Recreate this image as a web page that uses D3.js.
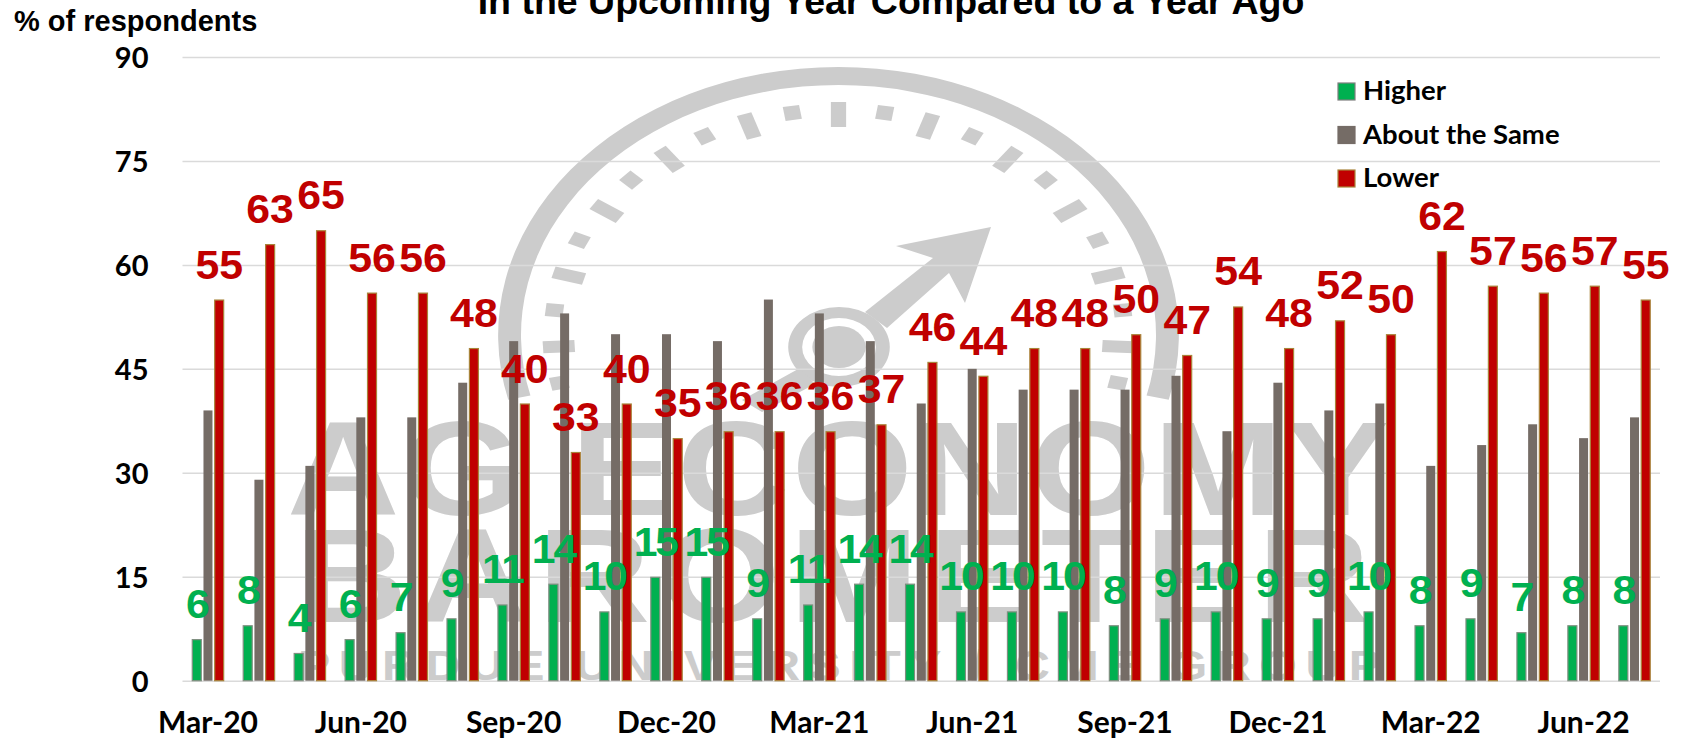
<!DOCTYPE html>
<html><head><meta charset="utf-8">
<style>html,body{margin:0;padding:0;background:#fff;overflow:hidden}svg{display:block}</style>
<script src="https://cdn.jsdelivr.net/npm/d3@7/dist/d3.min.js"></script>
</head><body><svg id="c" width="1681" height="741"></svg>
<script>
const months=["Mar-20","Apr-20","May-20","Jun-20","Jul-20","Aug-20","Sep-20","Oct-20","Nov-20","Dec-20","Jan-21","Feb-21","Mar-21","Apr-21","May-21","Jun-21","Jul-21","Aug-21","Sep-21","Oct-21","Nov-21","Dec-21","Jan-22","Feb-22","Mar-22","Apr-22","May-22","Jun-22","Jul-22"];
const higher=[6,8,4,6,7,9,11,14,10,15,15,9,11,14,14,10,10,10,8,9,10,9,9,10,8,9,7,8,8];
const same=[39,29,31,38,38,43,49,53,50,50,49,55,53,49,40,45,42,42,42,44,36,43,39,40,31,34,37,35,38];
const lower=[55,63,65,56,56,48,40,33,40,35,36,36,36,37,46,44,48,48,50,47,54,48,52,50,62,57,56,57,55];
const yTicks=[0,15,30,45,60,75,90];
const xTickLabels=["Mar-20","Jun-20","Sep-20","Dec-20","Mar-21","Jun-21","Sep-21","Dec-21","Mar-22","Jun-22"];
const seriesNames=["Higher","About the Same","Lower"];
const titleText="In the Upcoming Year Compared to a Year Ago";
const yTitle="% of respondents";

const svg=d3.select("#c");
const WM="#cccccc",GREEN="#00b050",GREY="#756c66",RED="#c00000",GOLD="#a8843a";
const ARIAL="'Liberation Sans',Arial,sans-serif",CAL="Lato,sans-serif";
const x=d3.scaleBand().domain(months).range([182.5,1660]);
const y=d3.scaleLinear().domain([0,90]).range([680.7,57]);
const off=d3.scalePoint().domain(seriesNames).range([-11.2,11.2]);
const cx=(m,s)=>x(m)+x.bandwidth()/2+off(s);

/* watermark */
const wm=svg.append("g").attr("fill",WM);
const g=wm.append("g").attr("transform","translate(838.5,335) scale(1.27,1)");
const rad=d=>d*Math.PI/180;
g.append("path").attr("d",d3.arc()({innerRadius:250,outerRadius:268,startAngle:rad(-104),endAngle:rad(104)}));
g.selectAll("rect.t").data(d3.range(-11,12)).join("rect")
 .attr("x",d=>d%2===0?-6:-6.5).attr("width",d=>d%2===0?12:13)
 .attr("y",d=>d%2===0?-233:-232).attr("height",d=>d%2===0?25:14)
 .attr("transform",d=>`rotate(${d*9.3})`);
const hub=wm.append("g").attr("transform","translate(839,347) scale(1.27,1)");
hub.append("path").attr("d",d3.arc()({innerRadius:29,outerRadius:40,startAngle:0,endAngle:2*Math.PI}));
hub.append("circle").attr("r",21);
wm.append("path").attr("d",d3.line()([[865,312],[933,258],[896,246],[991,227],[965,303],[949,273],[887,328]]));
wm.append("path").attr("d",d3.line()([[800,368],[815,384],[762,412],[742,400]]));
const wmScale=1.17;
const wmText=[["AG ECONOMY",287,515,1102/wmScale,133],["BAROMETER",295,622,1075/wmScale,133]];
wm.selectAll("text.w").data(wmText).join("text").attr("font-family",ARIAL).attr("font-weight",700)
 .attr("transform",d=>`translate(${d[1]},${d[2]}) scale(${wmScale},1)`).attr("textLength",d=>d[3]).attr("lengthAdjust","spacing")
 .attr("font-size",d=>d[4]).text(d=>d[0]);
wm.append("text").attr("font-family",ARIAL).attr("font-weight",700).attr("transform","translate(298,680) scale(1.15,1)")
 .attr("font-size",42).attr("textLength",1083/1.15).attr("lengthAdjust","spacing").text("PURDUE UNIVERSITY / CME GROUP");

/* axes */
const yAxis=d3.axisLeft(y).tickValues(yTicks).tickSize(-(1660-182.5)).tickPadding(34);
const ga=svg.append("g").attr("transform","translate(182.5,0)").call(yAxis);
ga.select(".domain").remove();
ga.selectAll("line").attr("stroke","#dadada").attr("stroke-width",1.5);
ga.selectAll("text").attr("font-family",CAL).attr("font-weight",700).attr("font-size",29).attr("fill","#000").attr("dy","0.36em");
const xAxis=d3.axisBottom(x).tickValues(xTickLabels).tickSize(0).tickPadding(0);
const gx=svg.append("g").attr("transform","translate(0,680.7)").call(xAxis);
gx.select(".domain").remove();
gx.selectAll("text").attr("font-family",CAL).attr("font-weight",700).attr("font-size",30).attr("fill","#000").attr("dy",0).attr("y",52);

/* bars */
const rows=months.map((m,i)=>({m,i}));
const bar=(name,vals,w,fill,stroke)=>svg.append("g").selectAll("rect").data(rows).join("rect")
 .attr("x",d=>cx(d.m,name)-w/2+(stroke?0.5:0)).attr("width",w-(stroke?1:0))
 .attr("y",d=>y(vals[d.i])+(stroke?0.5:0)).attr("height",d=>y(0)-y(vals[d.i])-(stroke?0.5:0))
 .attr("fill",fill).attr("stroke",stroke||"none").attr("stroke-width",stroke?1.2:0);
bar("Higher",higher,10,GREEN,"#7f8f80");
bar("About the Same",same,9,GREY,null);
bar("Lower",lower,10,RED,GOLD);

/* value labels */
const lab=(name,vals,fill,sp)=>svg.append("g").selectAll("text").data(rows).join("text")
 .attr("transform",d=>`translate(${cx(d.m,name)},${y(vals[d.i])-21}) scale(1.07,1)`)
 .attr("text-anchor","middle").attr("font-family",ARIAL).attr("font-weight",700).attr("font-size",40)
 .attr("letter-spacing",sp).attr("fill",fill).text(d=>vals[d.i]);
lab("Higher",higher,GREEN,-2);
lab("Lower",lower,RED,0);

/* legend */
const legY=d3.scalePoint().domain(seriesNames).range([100,187]);
const lg=svg.append("g");
const legFill={"Higher":GREEN,"About the Same":GREY,"Lower":RED},legStroke={"Higher":"#7f7f7f","About the Same":GREY,"Lower":GOLD};
lg.selectAll("rect").data(seriesNames).join("rect").attr("x",1338).attr("width",17).attr("height",17)
 .attr("y",d=>legY(d)-17).attr("fill",d=>legFill[d]).attr("stroke",d=>legStroke[d]).attr("stroke-width",1.2);
lg.selectAll("text").data(seriesNames).join("text").attr("x",1363).attr("y",d=>legY(d)).attr("font-family",CAL)
 .attr("font-weight",700).attr("font-size",27.5).attr("fill","#000").text(d=>d);

/* titles */
svg.append("text").attr("x",891).attr("y",14).attr("text-anchor","middle").attr("font-family",ARIAL).attr("font-weight",700)
 .attr("font-size",37.5).attr("fill","#000").text(titleText);
svg.append("text").attr("x",14).attr("y",31).attr("font-family",ARIAL).attr("font-weight",700)
 .attr("font-size",29).attr("fill","#000").text(yTitle);
</script></body></html>
